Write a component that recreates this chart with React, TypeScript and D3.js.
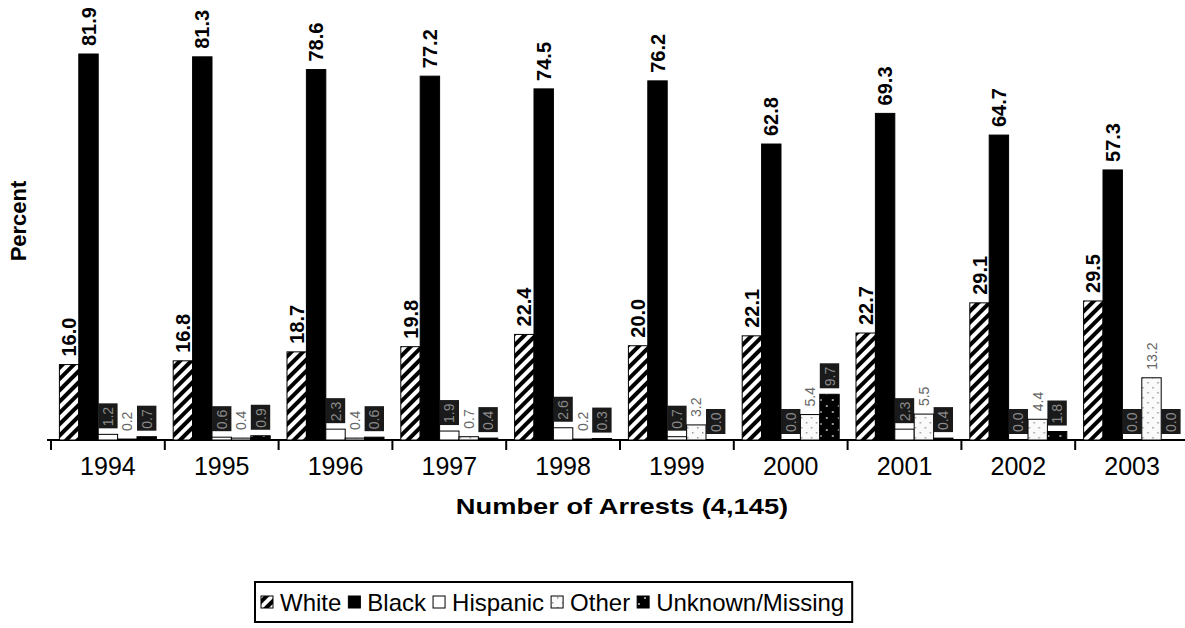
import React, { useEffect, useRef } from 'react'
import * as d3 from 'd3'

const years = ['1994', '1995', '1996', '1997', '1998', '1999', '2000', '2001', '2002', '2003']
const seriesNames = ['White', 'Black', 'Hispanic', 'Other', 'Unknown/Missing']
const white = [16.0, 16.8, 18.7, 19.8, 22.4, 20.0, 22.1, 22.7, 29.1, 29.5]
const black = [81.9, 81.3, 78.6, 77.2, 74.5, 76.2, 62.8, 69.3, 64.7, 57.3]
const hispanic = [1.2, 0.6, 2.3, 1.9, 2.6, 0.7, 0.0, 2.3, 0.0, 0.0]
const other = [0.2, 0.4, 0.4, 0.7, 0.2, 3.2, 5.4, 5.5, 4.4, 13.2]
const unknown = [0.7, 0.9, 0.6, 0.4, 0.3, 0.0, 9.7, 0.4, 1.8, 0.0]

const W = 1185
const H = 628
const FONT = 'Liberation Sans, Arial, sans-serif'

// fill for each series, patterns are defined in <defs>
const fills = ['url(#hatch)', '#000', '#fff', 'url(#dotsLight)', 'url(#dotsDark)']

export default function App() {
    const svgRef = useRef<SVGSVGElement | null>(null)

    useEffect(() => {
        const svg = d3.select(svgRef.current)
        svg.selectAll('*').remove()

        const defs = svg.append('defs')
        const hatch = defs
            .append('pattern')
            .attr('id', 'hatch')
            .attr('patternUnits', 'userSpaceOnUse')
            .attr('width', 8)
            .attr('height', 8)
            .attr('patternTransform', 'rotate(45)')
        hatch.append('rect').attr('width', 8).attr('height', 8).attr('fill', '#fff')
        hatch.append('rect').attr('width', 4).attr('height', 8).attr('fill', '#000')

        const dl = defs
            .append('pattern')
            .attr('id', 'dotsLight')
            .attr('patternUnits', 'userSpaceOnUse')
            .attr('width', 10)
            .attr('height', 10)
        dl.append('rect').attr('width', 10).attr('height', 10).attr('fill', '#fafafa')
        dl.append('rect').attr('x', 2).attr('y', 2).attr('width', 1.5).attr('height', 1.5).attr('fill', '#999')
        dl.append('rect').attr('x', 7).attr('y', 7).attr('width', 1.5).attr('height', 1.5).attr('fill', '#999')

        const dd = defs
            .append('pattern')
            .attr('id', 'dotsDark')
            .attr('patternUnits', 'userSpaceOnUse')
            .attr('width', 12)
            .attr('height', 12)
        dd.append('rect').attr('width', 12).attr('height', 12).attr('fill', '#000')
        dd.append('rect').attr('x', 2).attr('y', 3).attr('width', 2).attr('height', 2).attr('fill', '#999')
        dd.append('rect').attr('x', 8).attr('y', 9).attr('width', 2).attr('height', 2).attr('fill', '#999')

        const baseY = 440
        const x0 = d3.scaleBand<string>().domain(years).range([51, 1189]).paddingInner(0).paddingOuter(0)
        const x1 = d3
            .scaleBand<string>()
            .domain(seriesNames)
            .range([8.4, x0.bandwidth() - 8.4])
        const y = d3.scaleLinear().domain([0, 90]).range([baseY, baseY - 90 * 4.713])

        const series = [white, black, hispanic, other, unknown]

        // x axis line with ticks between groups
        const axis = svg.append('g')
        axis.append('line')
            .attr('x1', 47)
            .attr('x2', W)
            .attr('y1', baseY)
            .attr('y2', baseY)
            .attr('stroke', '#000')
            .attr('stroke-width', 2)
        const tickXs = years.map((yr) => x0(yr)!).concat([x0(years[years.length - 1])! + x0.bandwidth()])
        axis.selectAll('line.tick')
            .data(tickXs)
            .join('line')
            .attr('class', 'tick')
            .attr('x1', (d) => d)
            .attr('x2', (d) => d)
            .attr('y1', baseY)
            .attr('y2', baseY + 10)
            .attr('stroke', '#000')
            .attr('stroke-width', 2)
        axis.selectAll('text')
            .data(years)
            .join('text')
            .attr('x', (d) => x0(d)! + x0.bandwidth() / 2)
            .attr('y', 475)
            .attr('text-anchor', 'middle')
            .attr('font-family', FONT)
            .attr('font-size', 25)
            .text((d) => d)

        // bars
        const groups = svg
            .selectAll('g.year')
            .data(years)
            .join('g')
            .attr('class', 'year')
            .attr('transform', (d) => `translate(${x0(d)},0)`)

        groups.each(function (yr, i) {
            const g = d3.select(this)
            seriesNames.forEach((name, s) => {
                const v = series[s][i]
                const bx = x1(name)!
                const bw = x1.bandwidth()
                g.append('rect')
                    .attr('x', bx)
                    .attr('y', y(v))
                    .attr('width', bw)
                    .attr('height', baseY - y(v))
                    .attr('fill', fills[s])
                    .attr('stroke', '#000')
                    .attr('stroke-width', 1)
                const cx = bx + bw / 2
                const top = y(v)
                if (s < 2) {
                    g.append('text')
                        .attr('transform', `translate(${cx + 7},${top - 8}) rotate(-90)`)
                        .attr('font-family', FONT)
                        .attr('font-weight', 'bold')
                        .attr('font-size', 20)
                        .text(v.toFixed(1))
                } else {
                    const dark = s !== 3
                    if (dark) {
                        g.append('rect')
                            .attr('x', bx)
                            .attr('y', top - 31)
                            .attr('width', bw)
                            .attr('height', 25)
                            .attr('fill', '#1a1a1a')
                    }
                    g.append('text')
                        .attr('transform', `translate(${cx + 5},${top - 8}) rotate(-90)`)
                        .attr('font-family', FONT)
                        .attr('font-size', 14)
                        .attr('fill', dark ? '#8a8a8a' : '#666')
                        .text(v.toFixed(1))
                }
            })
        })

        // axis titles
        svg.append('text')
            .attr('x', 622)
            .attr('y', 514)
            .attr('text-anchor', 'middle')
            .attr('font-family', FONT)
            .attr('font-weight', 'bold')
            .attr('font-size', 22)
            .attr('transform', 'translate(622,0) scale(1.24,1) translate(-622,0)')
            .text('Number of Arrests (4,145)')
        svg.append('text')
            .attr('transform', `translate(26,221) rotate(-90)`)
            .attr('text-anchor', 'middle')
            .attr('font-family', FONT)
            .attr('font-weight', 'bold')
            .attr('font-size', 22)
            .text('Percent')

        // legend
        const leg = svg.append('g')
        const legBox = leg.append('rect')
            .attr('y', 582)
            .attr('height', 40)
            .attr('fill', '#fff')
            .attr('stroke', '#000')
            .attr('stroke-width', 2)
        let lx = 261
        seriesNames.forEach((name, s) => {
            leg.append('rect')
                .attr('x', lx)
                .attr('y', 596)
                .attr('width', 12)
                .attr('height', 12)
                .attr('fill', fills[s])
                .attr('stroke', '#000')
                .attr('stroke-width', 1)
            const t = leg.append('text')
                .attr('x', lx + 19)
                .attr('y', 611)
                .attr('font-family', FONT)
                .attr('font-size', 24)
                .text(name)
            const tw = (t.node() as SVGTextElement).getComputedTextLength()
            lx += 19 + tw + 7
        })
        legBox.attr('x', 255).attr('width', lx - 255 + 1)
    }, [])

    return (
        <svg
            ref={svgRef}
            width={W}
            height={H}
            style={{ position: 'absolute', left: 0, top: 0, background: '#fff' }}
        />
    )
}
